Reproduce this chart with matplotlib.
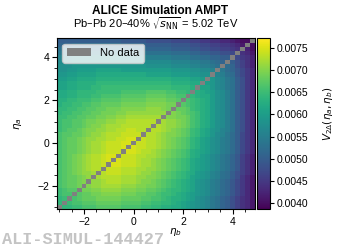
import matplotlib
matplotlib.use("Agg")
import matplotlib.pyplot as plt
import numpy as np
from matplotlib.patches import Patch
from matplotlib.ticker import MultipleLocator

plt.rcParams['font.family'] = ['Liberation Sans', 'DejaVu Sans']
plt.rcParams['mathtext.fontset'] = 'dejavusans'

# binning in eta (same for eta_a and eta_b)
ETA_LO = -3.1
ETA_HI = 4.9
N_BINS = 40

# V2Delta(eta_a, eta_b) in units of 1e-4, row 0 = lowest eta_a, column 0 = lowest eta_b
v2d_rows = [
    [63,64,64,65,65,66,66,66,67,67,67,67,67,66,66,66,66,65,65,64,64,63,63,62,62,61,60,59,58,57,56,54,53,51,50,48,46,44,43,41],
    [64,65,65,66,66,67,67,67,68,68,68,68,68,67,67,67,67,66,66,65,65,64,64,63,62,61,60,59,58,57,56,54,53,51,50,48,46,44,43,41],
    [64,65,66,66,67,68,68,68,69,69,69,69,69,68,68,68,68,67,67,66,66,65,64,63,63,62,61,60,58,57,56,54,53,51,50,48,46,44,43,41],
    [65,66,66,67,67,68,68,69,69,70,70,70,70,69,69,69,68,68,67,67,66,65,65,64,63,62,61,60,59,58,57,55,54,52,51,49,47,45,43,41],
    [65,66,67,67,68,69,69,70,70,71,71,71,71,70,70,70,69,69,68,68,67,66,65,64,64,63,62,61,59,58,57,55,54,52,51,49,47,45,43,41],
    [66,67,68,68,69,70,70,71,71,72,72,72,72,71,71,71,70,70,69,69,68,67,66,65,64,63,62,61,59,58,57,55,54,52,51,49,47,45,43,41],
    [66,67,68,68,69,70,70,71,71,72,73,73,73,72,72,72,71,70,70,69,68,67,66,65,64,63,62,61,59,58,57,55,54,52,51,49,47,45,43,41],
    [66,67,68,68,69,70,71,72,72,73,73,73,73,72,72,72,71,71,70,70,69,68,67,66,65,64,63,61,60,59,58,56,55,53,52,50,48,45,43,41],
    [66,67,68,69,70,71,71,72,72,73,74,74,74,73,73,73,72,71,71,70,69,68,67,66,65,64,63,62,60,59,58,56,55,53,52,50,48,46,44,42],
    [66,67,68,69,70,71,72,73,73,74,74,74,74,73,73,73,72,72,71,71,70,69,68,67,66,65,64,62,61,60,59,57,56,54,53,51,49,46,44,42],
    [66,67,68,69,70,71,72,73,73,74,75,75,75,74,74,74,73,72,72,71,70,69,68,67,66,65,64,62,61,60,59,57,56,54,53,51,49,46,44,42],
    [66,67,68,69,70,71,72,73,73,74,75,75,75,74,74,74,73,72,72,71,70,69,68,67,66,65,64,62,61,60,59,57,56,54,53,51,49,46,44,42],
    [66,67,68,69,70,71,72,73,73,74,75,75,75,74,74,74,73,73,72,72,71,70,69,68,67,66,65,63,62,60,59,57,56,54,53,51,49,46,44,42],
    [66,67,68,68,69,70,71,72,72,73,74,74,74,75,75,75,74,73,73,72,71,70,69,68,67,66,65,63,62,61,60,58,57,55,54,52,50,47,45,43],
    [66,67,68,68,69,70,71,72,72,73,74,74,74,75,75,75,74,74,73,73,72,71,70,69,68,67,66,64,63,61,60,58,57,55,54,52,50,47,45,43],
    [66,67,68,68,69,70,71,72,72,73,74,74,74,75,75,75,74,74,73,73,72,71,70,69,68,67,66,64,63,61,60,58,57,55,54,52,50,47,45,43],
    [66,67,68,68,69,70,71,71,72,72,73,73,74,74,75,75,74,74,73,73,72,71,70,69,68,67,66,64,63,61,60,58,57,55,54,52,50,47,45,43],
    [66,67,67,68,68,69,70,71,71,72,73,73,73,74,74,74,74,74,73,73,72,71,70,70,69,68,67,65,64,62,61,59,57,56,54,52,50,47,45,43],
    [65,66,67,67,68,69,70,70,71,71,72,72,73,73,74,74,73,73,73,73,73,72,71,70,69,68,67,65,64,62,61,59,58,56,55,53,50,48,45,43],
    [65,66,66,67,67,68,69,70,70,71,72,72,72,73,73,73,73,73,73,73,73,72,71,71,70,69,68,66,65,63,62,60,58,57,55,53,50,48,45,43],
    [65,66,66,67,67,68,69,69,70,70,71,71,72,72,73,73,73,73,73,73,73,72,71,71,70,69,68,66,65,63,62,60,58,57,55,53,50,48,45,43],
    [65,65,66,66,67,67,68,68,69,69,70,70,71,71,72,72,72,72,72,72,72,71,70,70,69,69,68,66,65,63,62,60,58,57,55,53,50,48,45,43],
    [64,65,65,66,66,67,67,68,68,69,69,69,70,70,71,71,71,71,71,71,71,71,70,70,69,68,67,66,65,63,62,60,58,57,55,53,50,48,45,43],
    [64,64,65,65,66,66,67,67,68,68,69,69,69,70,70,70,70,70,71,71,71,70,69,69,68,68,67,65,64,63,62,60,58,57,55,53,50,48,45,43],
    [63,64,64,65,65,66,66,67,67,68,68,68,68,69,69,69,69,69,70,70,70,70,69,69,68,67,66,65,64,63,62,60,58,57,55,53,50,48,45,43],
    [63,63,64,64,65,65,65,66,66,67,67,67,67,68,68,68,68,68,69,69,69,69,68,68,67,67,66,65,64,63,62,60,58,57,55,53,50,48,45,43],
    [62,62,63,63,64,64,64,65,65,66,66,66,66,67,67,67,67,67,68,68,68,68,67,67,66,66,65,64,63,62,62,60,58,57,55,53,50,48,45,43],
    [62,62,63,63,64,64,64,64,65,65,65,65,65,66,66,66,66,66,67,67,67,67,66,66,65,65,64,63,63,62,61,60,58,57,55,53,50,48,45,43],
    [61,61,62,62,63,63,63,64,64,65,65,65,65,65,65,65,65,65,65,65,65,65,65,64,64,64,64,63,62,61,61,59,57,56,54,53,50,48,45,43],
    [61,61,62,62,63,63,63,63,64,64,64,64,64,64,64,64,64,64,64,64,64,64,64,63,63,63,63,62,62,61,60,59,57,56,54,53,50,48,45,43],
    [60,60,61,61,62,62,62,62,63,63,63,63,63,63,63,63,63,63,63,63,63,63,63,62,62,62,62,61,61,60,60,59,57,56,54,53,50,48,45,43],
    [59,59,60,60,61,61,61,61,62,62,62,62,62,62,62,62,62,62,61,61,61,61,61,60,60,60,60,59,59,58,58,57,56,55,53,52,49,47,45,43],
    [58,58,59,59,60,60,60,60,61,61,61,61,61,60,60,60,60,60,60,60,60,60,60,59,59,59,59,58,58,57,57,56,55,54,52,51,49,47,45,43],
    [58,58,58,59,59,59,59,59,59,59,59,59,59,59,59,59,59,59,58,58,58,58,58,57,57,57,57,56,56,55,55,54,53,52,52,51,48,46,44,42],
    [57,57,57,58,58,58,58,58,58,58,58,58,58,57,57,57,57,57,57,57,57,57,57,56,56,56,56,55,55,54,54,53,52,51,51,50,48,46,44,42],
    [56,56,56,57,57,57,57,57,57,57,57,57,57,56,56,56,56,56,55,55,55,55,55,54,54,54,54,53,53,52,52,51,51,50,50,49,47,45,44,42],
    [54,54,54,55,55,55,55,55,55,55,55,55,55,54,54,54,54,54,53,53,53,53,53,52,52,52,52,51,51,50,50,49,49,48,48,47,45,44,43,41],
    [53,53,53,53,53,53,53,53,53,53,53,53,53,52,52,52,52,52,51,51,51,51,51,50,50,50,50,49,49,48,48,47,47,46,46,45,44,42,42,40],
    [51,51,51,52,52,52,52,52,52,52,52,52,52,51,51,51,51,51,50,50,50,50,50,49,49,49,49,48,48,47,47,46,46,45,45,44,43,41,41,40],
    [50,50,50,50,50,50,50,50,50,50,50,50,50,49,49,49,49,49,48,48,48,48,48,47,47,47,47,46,46,45,45,44,44,43,43,42,41,40,40,39],
]

cbar_ticks = [0.0040, 0.0045, 0.0050, 0.0055, 0.0060, 0.0065, 0.0070, 0.0075]
V_MIN = 0.00385
V_MAX = 0.00773

edges = np.linspace(ETA_LO, ETA_HI, N_BINS + 1)
v2d = np.array(v2d_rows, dtype=float) * 1e-4
# diagonal bins have no data
v2d = np.ma.masked_where(np.eye(N_BINS, dtype=bool), v2d)

fig = plt.figure(figsize=(3.38, 2.5), dpi=100)
ax = fig.add_axes([0.168, 0.163, 0.586, 0.684])
cax = fig.add_axes([0.761, 0.163, 0.038, 0.684])

cmap = plt.get_cmap('viridis').copy()
cmap.set_bad('#808080')
mesh = ax.pcolormesh(edges, edges, v2d, cmap=cmap, vmin=V_MIN, vmax=V_MAX)
ax.set_xlim(ETA_LO, ETA_HI)
ax.set_ylim(ETA_LO, ETA_HI)

ax.xaxis.set_major_locator(MultipleLocator(2))
ax.xaxis.set_minor_locator(MultipleLocator(0.5))
ax.yaxis.set_major_locator(MultipleLocator(2))
ax.yaxis.set_minor_locator(MultipleLocator(0.5))
ax.tick_params(which='both', direction='out', labelsize=7.5, top=False, right=False, pad=2)
ax.tick_params(which='major', length=3.5)
ax.tick_params(which='minor', length=2)

ax.set_xlabel(r'$\eta_b$', fontsize=7.5)
ax.xaxis.set_label_coords(0.6, -0.1)
ax.set_ylabel(r'$\eta_a$', fontsize=7.5)
ax.yaxis.set_label_coords(-0.165, 0.5)

ax.legend(handles=[Patch(facecolor='#808080', label='No data')], loc='upper left',
          fontsize=8, frameon=True, fancybox=True, framealpha=0.8, edgecolor='#cccccc',
          handlelength=2.2, handleheight=0.7, borderaxespad=0.5)

cb = fig.colorbar(mesh, cax=cax, ticks=cbar_ticks, format='%.4f')
cb.outline.set_linewidth(0.8)
cax.tick_params(labelsize=7.5, length=3, pad=2)
cax.set_ylabel(r'$V_{2\Delta}(\eta_a, \eta_b)$', fontsize=7.5)
cax.yaxis.set_label_coords(5.0, 0.56)

fig.text(0.475, 0.958, 'ALICE Simulation AMPT', ha='center', va='center',
         fontsize=8.6, fontweight='bold')
fig.text(0.461, 0.904, r'Pb–Pb 20–40% $\sqrt{s_{\rm NN}}$ = 5.02 TeV', ha='center',
         va='center', fontsize=8)
fig.text(0.006, 0.04, 'ALI-SIMUL-144427', ha='left', va='center', family='Liberation Mono',
         fontweight='bold', color='#c4c4c4', fontsize=12.2)

fig.savefig('out.png', dpi=100)
